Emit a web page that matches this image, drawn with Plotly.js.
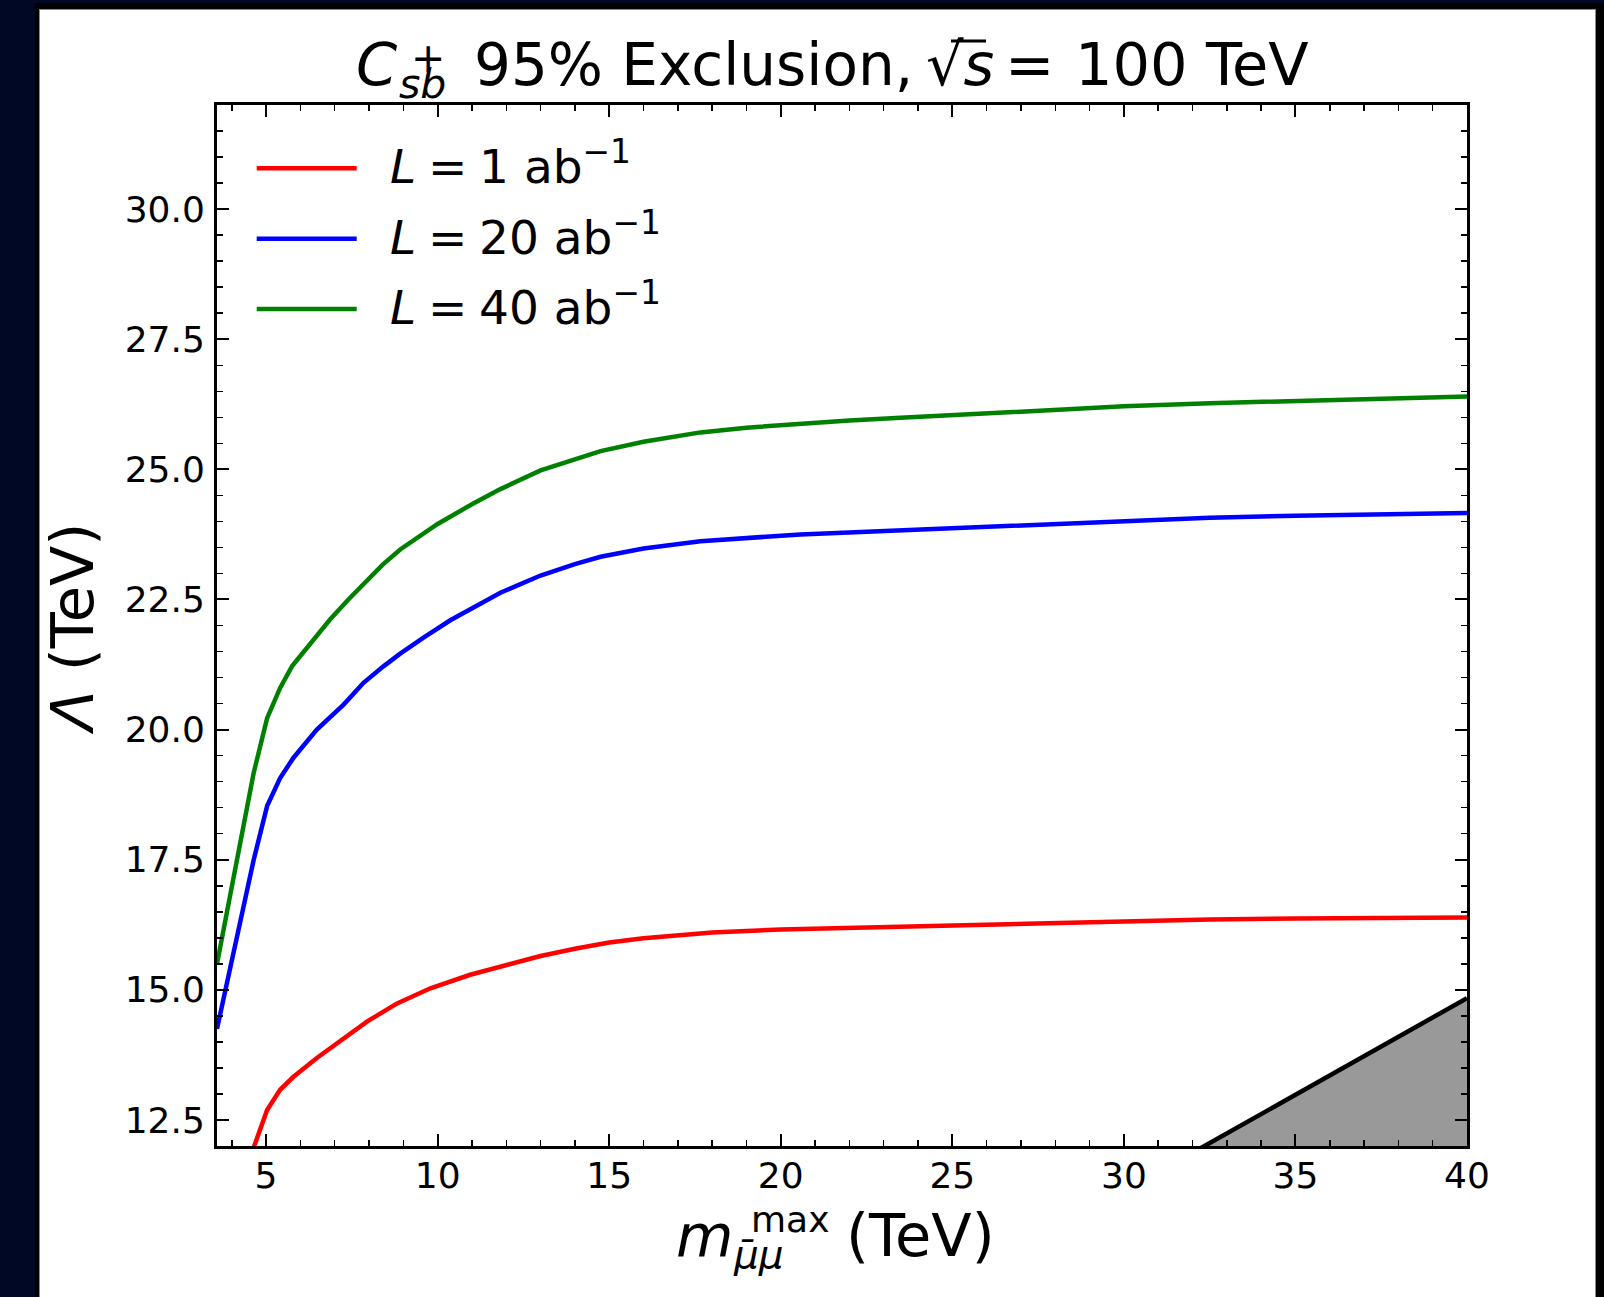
<!DOCTYPE html>
<html>
<head>
<meta charset="utf-8">
<script src="https://cdn.plot.ly/plotly-3.0.1.min.js"></script>
<style>
  html, body { margin:0; padding:0; }
  body { background:#000826; width:1604px; height:1297px; overflow:hidden; position:relative; }
  #frame { position:absolute; left:35px; top:3px; width:1569px; height:1310px; background:#000; }
  #sheet { position:absolute; left:39px; top:9px; width:1557px; height:1310px; background:#fff; border:1px solid #8c8c8c; box-sizing:border-box; }
  #chart { position:absolute; left:0; top:0; width:1604px; height:1297px; }
</style>
</head>
<body>
<div id="frame"></div>
<div id="sheet"></div>
<div id="chart"></div>
<script>
// ---- data ----
const xL1  = [3.57, 4.64, 5.03, 5.41, 5.80, 6.48, 7.07, 7.94, 8.82, 9.79, 10.95, 12.0, 13.0, 14.0, 15.0, 16.0, 17.0, 18.0, 20.0, 22.5, 25.0, 27.5, 30.0, 32.5, 35.0, 37.5, 40.0];
const yL1  = [10.0, 12.0, 12.69, 13.08, 13.33, 13.69, 13.98, 14.39, 14.74, 15.03, 15.29, 15.48, 15.65, 15.79, 15.91, 15.99, 16.05, 16.10, 16.16, 16.20, 16.24, 16.28, 16.32, 16.35, 16.37, 16.38, 16.39];

const xL20 = [3.57, 4.64, 5.03, 5.41, 5.80, 6.48, 7.26, 7.84, 8.43, 8.91, 9.6, 10.37, 11.83, 13.0, 14.0, 14.75, 16.0, 17.66, 20.57, 23.49, 25.0, 27.5, 30.0, 32.5, 35.0, 37.5, 40.0];
const yL20 = [14.25, 17.5, 18.53, 19.07, 19.46, 20.0, 20.48, 20.90, 21.22, 21.46, 21.77, 22.10, 22.63, 22.96, 23.18, 23.32, 23.48, 23.62, 23.75, 23.83, 23.88, 23.95, 24.02, 24.07, 24.11, 24.14, 24.16];

const xL40 = [3.57, 4.64, 5.03, 5.41, 5.76, 6.19, 6.48, 6.87, 7.4, 7.9, 8.4, 8.91, 10.0, 11.0, 11.83, 13.0, 14.0, 14.75, 16.0, 17.66, 19.0, 20.57, 22.0, 23.49, 25.0, 27.5, 30.0, 32.5, 35.0, 37.5, 40.0];
const yL40 = [15.5, 19.17, 20.22, 20.80, 21.22, 21.57, 21.83, 22.12, 22.50, 22.85, 23.17, 23.46, 23.95, 24.33, 24.62, 24.98, 25.20, 25.35, 25.53, 25.71, 25.80, 25.88, 25.94, 25.99, 26.04, 26.13, 26.21, 26.27, 26.32, 26.37, 26.40];

const xLimit = [3.57, 40.0];
const yLimit = [1.32, 14.84];

const seriesNames  = ['<i>L</i>\u2005=\u20051 ab<sup>−1</sup>', '<i>L</i>\u2005=\u200520 ab<sup>−1</sup>', '<i>L</i>\u2005=\u200540 ab<sup>−1</sup>'];
const seriesColors = ['#ff0000', '#0000ff', '#008000'];

const xRange = [3.57, 40];
const yRange = [12, 32];

// ---- layout helpers (pixel -> paper) ----
const L = 217, R = 1467, T = 105, B = 1146;
const PX = x => (x - L) / (R - L);
const PY = y => (B - y) / (B - T);
const FONT = 'DejaVu Sans';

const traces = [
  { x: xLimit, y: yLimit, mode: 'lines', fill: 'tozeroy', fillcolor: '#999999',
    line: { color: '#000000', width: 4.5 }, showlegend: false, hoverinfo: 'skip' },
  { x: xL1,  y: yL1,  mode: 'lines', name: seriesNames[0], line: { color: seriesColors[0], width: 4.5 } },
  { x: xL20, y: yL20, mode: 'lines', name: seriesNames[1], line: { color: seriesColors[1], width: 4.5 } },
  { x: xL40, y: yL40, mode: 'lines', name: seriesNames[2], line: { color: seriesColors[2], width: 4.5 } }
];

function ann(text, xpx, ypx, size, opts) {
  return Object.assign({
    text: text, xref: 'paper', yref: 'paper', x: PX(xpx), y: PY(ypx),
    xanchor: 'left', yanchor: 'bottom', showarrow: false,
    borderpad: 0, borderwidth: 0,
    font: { family: FONT, size: size, color: '#000' }
  }, opts || {});
}

const annotations = [];
// title
annotations.push(ann('<i>C</i>', 356, 98.9, 59));
annotations.push(ann('<i>sb</i>', 399, 107.7, 41));
annotations.push(ann('+', 411, 58, 41, { yanchor: 'middle' }));
annotations.push(ann('95% Exclusion,', 474, 98.9, 58));
annotations.push(ann('√<i>s</i>', 926, 98.9, 59));
annotations.push(ann('=', 1005, 98.9, 59));
annotations.push(ann('100', 1075, 98.9, 59));
annotations.push(ann('TeV', 1205, 98.9, 59));
// x-axis title
annotations.push(ann('<i>m</i>', 676, 1269.9, 59));
annotations.push(ann('max', 751, 1240.4, 36));
annotations.push(ann('<i>μ̄μ</i>', 733, 1277, 39));
annotations.push(ann('(TeV)', 846, 1269.9, 59));
// y-axis title
annotations.push(ann('<i>Λ</i> (TeV)', 72, 628.5, 59, { xanchor: 'center', yanchor: 'middle', textangle: -90 }));
// legend text
const legendBaselines = [183.3, 253.7, 324.1];
const legendLineY = [168.3, 238.7, 309.1];
for (let i = 0; i < 3; i++) {
  annotations.push(ann(seriesNames[i], 390, legendBaselines[i] + 11.1, 47));
}

const shapes = [
  // radical vinculum
  { type: 'line', xref: 'paper', yref: 'paper', x0: PX(951), x1: PX(986), y0: PY(41), y1: PY(41),
    line: { color: '#000', width: 3 } }
];
for (let i = 0; i < 3; i++) {
  shapes.push({ type: 'line', xref: 'paper', yref: 'paper',
    x0: PX(256.7), x1: PX(356.7), y0: PY(legendLineY[i]), y1: PY(legendLineY[i]),
    line: { color: seriesColors[i], width: 4.5 } });
}

const axisCommon = {
  ticks: 'inside', ticklen: 12, tickwidth: 2, tickcolor: '#000',
  showline: true, linewidth: 3, linecolor: '#000', mirror: 'allticks',
  showgrid: false, zeroline: false,
  tickfont: { family: FONT, size: 36, color: '#000' },
  fixedrange: true
};

const layout = {
  width: 1604, height: 1297,
  margin: { l: L, r: 1604 - R, t: T, b: 1297 - B, pad: 0 },
  paper_bgcolor: 'rgba(0,0,0,0)', plot_bgcolor: 'rgba(0,0,0,0)',
  showlegend: false,
  font: { family: FONT, color: '#000' },
  xaxis: Object.assign({}, axisCommon, {
    range: xRange, tick0: 0, dtick: 5, ticklabelstandoff: -4,
    minor: { dtick: 1, ticks: 'inside', ticklen: 6, tickwidth: 1.5, tickcolor: '#000', showgrid: false }
  }),
  yaxis: Object.assign({}, axisCommon, {
    range: yRange, tick0: 0, dtick: 2.5, tickformat: '.1f', ticklabelstandoff: 2,
    minor: { dtick: 0.5, ticks: 'inside', ticklen: 6, tickwidth: 1.5, tickcolor: '#000', showgrid: false }
  }),
  annotations: annotations,
  shapes: shapes
};

Plotly.newPlot('chart', traces, layout, { staticPlot: true, displayModeBar: false });
</script>
</body>
</html>
